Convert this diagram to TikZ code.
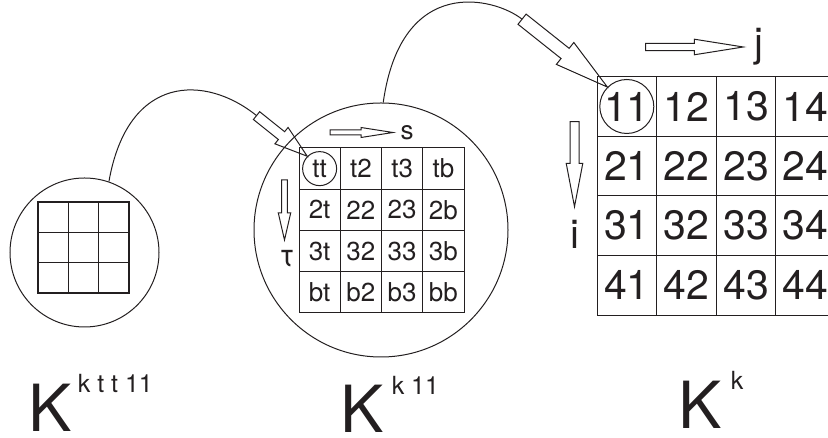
\documentclass[tikz,border=0pt]{standalone}
\usepackage{fontspec}
\setmainfont{TeX Gyre Heros}
\usepackage{tikz}
\usetikzlibrary{calc,positioning}

\definecolor{ink}{RGB}{35,31,32}

% outlined block arrow: #1 tail, #2 tip, #3 half shaft, #4 half head, #5 head length
\newcommand{\hollowarrow}[5]{%
  \coordinate (hbase) at ($(#2)!#5!(#1)$);
  \draw[hollow] ($(#1)!#3!90:(#2)$) -- ($(hbase)!#3!90:(#2)$) -- ($(hbase)!#4!90:(#2)$)
    -- (#2) -- ($(hbase)!#4!-90:(#2)$) -- ($(hbase)!#3!-90:(#2)$) -- ($(#1)!#3!-90:(#2)$) -- cycle;
}

\begin{document}
\begin{tikzpicture}[
    x=1pt,
    y=1pt,
    color=ink,
    line width=1pt,
    hollow/.style={line width=1pt, line join=miter},
    mcell/.style={draw, minimum size=41.25pt, inner sep=0pt, font=\fontsize{26}{26}\selectfont},
    kcell/.style={draw, minimum size=59.6pt, inner sep=0pt, font=\fontsize{41}{41}\selectfont},
    ring/.style={circle, draw, inner sep=0pt},
    lab/.style={inner sep=0pt, font=\fontsize{26}{26}\selectfont},
    biglab/.style={inner sep=0pt, font=\fontsize{40}{40}\selectfont},
    kname/.style={anchor=base west, inner sep=0pt, font=\fontsize{65}{65}\selectfont}
]
\useasboundingbox (0,0) rectangle (828,438);
\clip (0,0) rectangle (828,438);

% small block 3x3
\node[ring, minimum size=149pt] (Lcirc) at (84.5,185.5) {};
\foreach \k in {0,...,3}{
  \draw[line width=1.6pt, line cap=rect] ({38+30.33*\k},145) -- ++(0,91);
  \draw[line width=1.6pt, line cap=rect] (38,{145+30.33*\k}) -- ++(91,0);
}

% middle block, indices s and tau
\node[ring, minimum size=254pt] (Mcirc) at (381,208) {};
\foreach \r/\row in {0/{tt,t2,t3,tb},1/{2t,22,23,2b},2/{3t,32,33,3b},3/{bt,b2,b3,bb}}
  \foreach \lab [count=\c from 0] in \row
    \node[mcell] (m-\r-\c) at ({299+41.25*(\c+0.5)},{290-41.25*(\r+0.5)}) {\lab};
\node[ring, minimum size=34pt] (ttring) at (m-0-0) {};

\coordinate (sTail) at (330,305.5);
\coordinate (sTip) at (393,305.5);
\hollowarrow{sTail}{sTip}{2.5pt}{5pt}{32pt}
\node[lab, right=7pt of sTip] (slab) {s};

\coordinate (tauTail) at (284.5,258);
\coordinate (tauTip) at (284.5,198);
\hollowarrow{tauTail}{tauTip}{2.8pt}{6.2pt}{27pt}
\node[lab, font=\fontsize{31}{31}\selectfont, below=10pt of tauTip, xshift=2.5pt] (taulab) {τ};

% full matrix, indices i and j
\foreach \r in {1,...,4}
  \foreach \c in {1,...,4}
    \node[kcell] (k-\r\c) at ({597+59.6*(\c-0.5)},{361.3-59.6*(\r-0.5)}) {\r\c};
\node[ring, minimum size=54pt] (ring11) at (k-11) {};

\coordinate (jTail) at (645.7,391);
\coordinate (jTip) at (743.3,391);
\hollowarrow{jTail}{jTip}{3.7pt}{7.8pt}{49pt}
\node[biglab, right=11pt of jTip] (jlab) {j};

\coordinate (iTail) at (574.5,316.3);
\coordinate (iTip) at (574.5,231.3);
\hollowarrow{iTail}{iTip}{4.5pt}{8.3pt}{43.4pt}
\node[biglab, below=13pt of iTip] (ilab) {i};

% zoom links
\coordinate (tailA) at ($(ttring.135)+(141.3:65)$);
\draw (Lcirc.71) .. controls ($(Lcirc.71)+(80:110)$) and ($(tailA)+(141:65)$) .. (tailA);
\hollowarrow{tailA}{ttring.135}{5pt}{10.5pt}{33pt}

\coordinate (tailB) at ($(ring11.135)+(141.5:109)$);
\draw (Mcirc.89) .. controls ($(Mcirc.89)+(82:130)$) and ($(tailB)+(141.5:35)$) .. (tailB);
\hollowarrow{tailB}{ring11.135}{6.5pt}{14pt}{54pt}

% names of the blocks
\node[kname] (Kttk) at (28,6) {K\hspace{6pt}\raisebox{39pt}{\fontsize{25}{25}\selectfont k t t 11}};
\node[kname] (Kk) at (340.3,5) {K\hspace{7.6pt}\raisebox{38pt}{\fontsize{25}{25}\selectfont k 11}};
\node[kname] (K) at (678.3,9) {K\hspace{8.6pt}\raisebox{39pt}{\fontsize{25}{25}\selectfont k}};
\end{tikzpicture}
\end{document}
